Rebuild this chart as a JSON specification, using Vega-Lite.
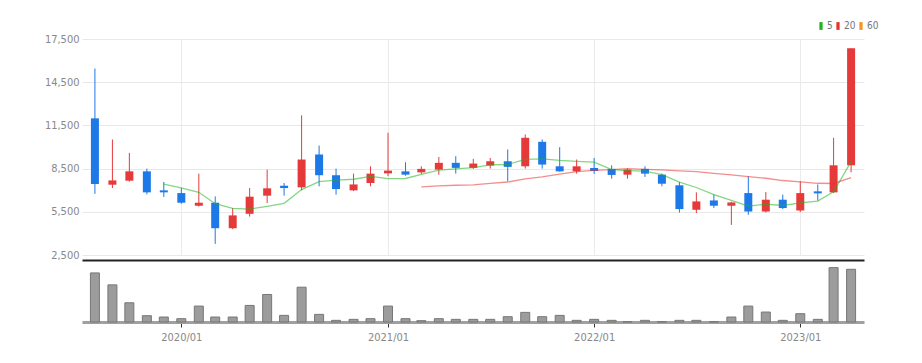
{
  "$schema": "https://vega.github.io/schema/vega-lite/v6.json",
  "padding": {"left": 5, "top": 21, "right": 5, "bottom": 5},
  "background": "white",
  "config": {
    "view": {"stroke": null},
    "font": "Liberation Sans Narrow, DejaVu Sans Condensed, sans-serif",
    "axis": {"labelFont": "Liberation Sans Narrow, DejaVu Sans Condensed, sans-serif", "labelColor": "#888888", "labelFontSize": 11, "title": null},
    "legend": {"labelFont": "Liberation Sans Narrow, DejaVu Sans Condensed, sans-serif"},
    "concat": {"spacing": 0}
  },
  "datasets": {
    "ohlc": [
      {"date": "2019-08-01", "open": 11990, "high": 15450, "low": 6750, "close": 7430, "volume": 148},
      {"date": "2019-09-01", "open": 7380, "high": 10520, "low": 7150, "close": 7680, "volume": 112},
      {"date": "2019-10-01", "open": 7660, "high": 9590, "low": 7590, "close": 8310, "volume": 58},
      {"date": "2019-11-01", "open": 8310, "high": 8500, "low": 6710, "close": 6850, "volume": 19},
      {"date": "2019-12-01", "open": 6990, "high": 7570, "low": 6530, "close": 6850, "volume": 15},
      {"date": "2020-01-01", "open": 6800, "high": 7150, "low": 6060, "close": 6130, "volume": 10},
      {"date": "2020-02-01", "open": 5920, "high": 8150, "low": 5870, "close": 6130, "volume": 48},
      {"date": "2020-03-01", "open": 6130, "high": 6570, "low": 3270, "close": 4360, "volume": 15},
      {"date": "2020-04-01", "open": 4360, "high": 5760, "low": 4290, "close": 5250, "volume": 15},
      {"date": "2020-05-01", "open": 5360, "high": 7150, "low": 5170, "close": 6550, "volume": 50},
      {"date": "2020-06-01", "open": 6620, "high": 8430, "low": 6110, "close": 7130, "volume": 83},
      {"date": "2020-07-01", "open": 7310, "high": 7500, "low": 6620, "close": 7150, "volume": 20},
      {"date": "2020-08-01", "open": 7200, "high": 12200, "low": 6990, "close": 9130, "volume": 105},
      {"date": "2020-09-01", "open": 9480, "high": 10100, "low": 7270, "close": 8040, "volume": 23},
      {"date": "2020-10-01", "open": 8040, "high": 8500, "low": 6690, "close": 7080, "volume": 5},
      {"date": "2020-11-01", "open": 6990, "high": 8150, "low": 6940, "close": 7400, "volume": 8},
      {"date": "2020-12-01", "open": 7500, "high": 8660, "low": 7270, "close": 8150, "volume": 10},
      {"date": "2021-01-01", "open": 8170, "high": 10990, "low": 7970, "close": 8360, "volume": 48},
      {"date": "2021-02-01", "open": 8310, "high": 8940, "low": 8010, "close": 8080, "volume": 10},
      {"date": "2021-03-01", "open": 8240, "high": 8660, "low": 8130, "close": 8480, "volume": 4},
      {"date": "2021-04-01", "open": 8430, "high": 9310, "low": 8080, "close": 8900, "volume": 10},
      {"date": "2021-05-01", "open": 8900, "high": 9360, "low": 8150, "close": 8550, "volume": 8},
      {"date": "2021-06-01", "open": 8550, "high": 9180, "low": 8480, "close": 8850, "volume": 8},
      {"date": "2021-07-01", "open": 8710, "high": 9240, "low": 8500, "close": 9010, "volume": 8},
      {"date": "2021-08-01", "open": 9010, "high": 9830, "low": 7620, "close": 8620, "volume": 16},
      {"date": "2021-09-01", "open": 8660, "high": 10870, "low": 8500, "close": 10640, "volume": 29},
      {"date": "2021-10-01", "open": 10360, "high": 10520, "low": 8500, "close": 8780, "volume": 16},
      {"date": "2021-11-01", "open": 8660, "high": 9990, "low": 8290, "close": 8310, "volume": 20},
      {"date": "2021-12-01", "open": 8310, "high": 9130, "low": 8150, "close": 8660, "volume": 5},
      {"date": "2022-01-01", "open": 8550, "high": 9240, "low": 8130, "close": 8330, "volume": 8},
      {"date": "2022-02-01", "open": 8480, "high": 8730, "low": 7800, "close": 8060, "volume": 5},
      {"date": "2022-03-01", "open": 8080, "high": 8500, "low": 7800, "close": 8430, "volume": 1},
      {"date": "2022-04-01", "open": 8480, "high": 8660, "low": 7920, "close": 8150, "volume": 5},
      {"date": "2022-05-01", "open": 8080, "high": 8150, "low": 7270, "close": 7450, "volume": 1},
      {"date": "2022-06-01", "open": 7340, "high": 7570, "low": 5450, "close": 5690, "volume": 5},
      {"date": "2022-07-01", "open": 5640, "high": 6850, "low": 5410, "close": 6220, "volume": 5},
      {"date": "2022-08-01", "open": 6290, "high": 6690, "low": 5760, "close": 5920, "volume": 1},
      {"date": "2022-09-01", "open": 5920, "high": 6200, "low": 4590, "close": 6150, "volume": 15},
      {"date": "2022-10-01", "open": 6800, "high": 7970, "low": 5290, "close": 5520, "volume": 48},
      {"date": "2022-11-01", "open": 5520, "high": 6870, "low": 5450, "close": 6340, "volume": 30},
      {"date": "2022-12-01", "open": 6340, "high": 6690, "low": 5690, "close": 5760, "volume": 5},
      {"date": "2023-01-01", "open": 5590, "high": 7620, "low": 5480, "close": 6800, "volume": 25},
      {"date": "2023-02-01", "open": 6920, "high": 7400, "low": 6270, "close": 6780, "volume": 8},
      {"date": "2023-03-01", "open": 6850, "high": 10640, "low": 6800, "close": 8730, "volume": 164},
      {"date": "2023-04-01", "open": 8730, "high": 16850, "low": 8240, "close": 16850, "volume": 159}
    ],
    "ma": [
      {"date": "2019-12-01", "period": "5", "value": 7424},
      {"date": "2020-01-01", "period": "5", "value": 7164},
      {"date": "2020-02-01", "period": "5", "value": 6854},
      {"date": "2020-03-01", "period": "5", "value": 6064},
      {"date": "2020-04-01", "period": "5", "value": 5744},
      {"date": "2020-05-01", "period": "5", "value": 5684},
      {"date": "2020-06-01", "period": "5", "value": 5884},
      {"date": "2020-07-01", "period": "5", "value": 6088},
      {"date": "2020-08-01", "period": "5", "value": 7042},
      {"date": "2020-09-01", "period": "5", "value": 7600},
      {"date": "2020-10-01", "period": "5", "value": 7706},
      {"date": "2020-11-01", "period": "5", "value": 7760},
      {"date": "2020-12-01", "period": "5", "value": 7960},
      {"date": "2021-01-01", "period": "5", "value": 7806},
      {"date": "2021-02-01", "period": "5", "value": 7814},
      {"date": "2021-03-01", "period": "5", "value": 8094},
      {"date": "2021-04-01", "period": "5", "value": 8394},
      {"date": "2021-05-01", "period": "5", "value": 8474},
      {"date": "2021-06-01", "period": "5", "value": 8572},
      {"date": "2021-07-01", "period": "5", "value": 8758},
      {"date": "2021-08-01", "period": "5", "value": 8786},
      {"date": "2021-09-01", "period": "5", "value": 9134},
      {"date": "2021-10-01", "period": "5", "value": 9180},
      {"date": "2021-11-01", "period": "5", "value": 9072},
      {"date": "2021-12-01", "period": "5", "value": 9002},
      {"date": "2022-01-01", "period": "5", "value": 8944},
      {"date": "2022-02-01", "period": "5", "value": 8428},
      {"date": "2022-03-01", "period": "5", "value": 8358},
      {"date": "2022-04-01", "period": "5", "value": 8326},
      {"date": "2022-05-01", "period": "5", "value": 8084},
      {"date": "2022-06-01", "period": "5", "value": 7556},
      {"date": "2022-07-01", "period": "5", "value": 7188},
      {"date": "2022-08-01", "period": "5", "value": 6686},
      {"date": "2022-09-01", "period": "5", "value": 6286},
      {"date": "2022-10-01", "period": "5", "value": 5900},
      {"date": "2022-11-01", "period": "5", "value": 6030},
      {"date": "2022-12-01", "period": "5", "value": 5938},
      {"date": "2023-01-01", "period": "5", "value": 6114},
      {"date": "2023-02-01", "period": "5", "value": 6240},
      {"date": "2023-03-01", "period": "5", "value": 6882},
      {"date": "2023-04-01", "period": "5", "value": 8984},
      {"date": "2021-03-01", "period": "20", "value": 7227},
      {"date": "2021-04-01", "period": "20", "value": 7301},
      {"date": "2021-05-01", "period": "20", "value": 7344},
      {"date": "2021-06-01", "period": "20", "value": 7371},
      {"date": "2021-07-01", "period": "20", "value": 7479},
      {"date": "2021-08-01", "period": "20", "value": 7568},
      {"date": "2021-09-01", "period": "20", "value": 7793},
      {"date": "2021-10-01", "period": "20", "value": 7926},
      {"date": "2021-11-01", "period": "20", "value": 8123},
      {"date": "2021-12-01", "period": "20", "value": 8294},
      {"date": "2022-01-01", "period": "20", "value": 8383},
      {"date": "2022-02-01", "period": "20", "value": 8429},
      {"date": "2022-03-01", "period": "20", "value": 8493},
      {"date": "2022-04-01", "period": "20", "value": 8444},
      {"date": "2022-05-01", "period": "20", "value": 8415},
      {"date": "2022-06-01", "period": "20", "value": 8345},
      {"date": "2022-07-01", "period": "20", "value": 8286},
      {"date": "2022-08-01", "period": "20", "value": 8175},
      {"date": "2022-09-01", "period": "20", "value": 8064},
      {"date": "2022-10-01", "period": "20", "value": 7936},
      {"date": "2022-11-01", "period": "20", "value": 7829},
      {"date": "2022-12-01", "period": "20", "value": 7672},
      {"date": "2023-01-01", "period": "20", "value": 7585},
      {"date": "2023-02-01", "period": "20", "value": 7481},
      {"date": "2023-03-01", "period": "20", "value": 7467},
      {"date": "2023-04-01", "period": "20", "value": 7879}
    ]
  },
  "vconcat": [
    {
      "width": 782,
      "height": 216,
      "encoding": {
        "x": {
          "field": "date",
          "type": "temporal",
          "scale": {"type": "utc", "domain": [{"year": 2019, "month": 7, "date": 18, "utc": true}, {"year": 2023, "month": 4, "date": 15, "utc": true}]},
          "axis": {
            "orient": "bottom",
            "offset": 5,
            "labels": false,
            "ticks": false,
            "domainColor": "#222222",
            "domainWidth": 2,
            "grid": true,
            "gridColor": "#ebebeb",
            "values": [
              {"year": 2020, "month": 1, "date": 1, "utc": true},
              {"year": 2021, "month": 1, "date": 1, "utc": true},
              {"year": 2022, "month": 1, "date": 1, "utc": true},
              {"year": 2023, "month": 1, "date": 1, "utc": true}
            ]
          }
        }
      },
      "layer": [
        {
          "data": {"name": "ohlc"},
          "mark": {"type": "rule", "strokeWidth": 1},
          "encoding": {
            "y": {
              "field": "low",
              "type": "quantitative",
              "scale": {"domain": [2500, 17500], "nice": false, "zero": false},
              "axis": {
                "values": [2500, 5500, 8500, 11500, 14500, 17500],
                "format": ",d",
                "domain": false,
                "ticks": false,
                "labelPadding": 3,
                "grid": true,
                "gridColor": "#e8e8e8",
                "minExtent": 77,
                "maxExtent": 77
              }
            },
            "y2": {"field": "high"},
            "color": {"condition": {"test": "datum.close >= datum.open", "value": "#e63a3a"}, "value": "#1d78e8"}
          }
        },
        {
          "data": {"name": "ohlc"},
          "mark": {"type": "bar", "size": 8},
          "encoding": {
            "y": {"field": "open", "type": "quantitative"},
            "y2": {"field": "close"},
            "color": {"condition": {"test": "datum.close >= datum.open", "value": "#e63a3a"}, "value": "#1d78e8"}
          }
        },
        {
          "data": {"name": "ma"},
          "mark": {"type": "line", "strokeWidth": 1.3, "strokeOpacity": 0.55},
          "encoding": {
            "y": {"field": "value", "type": "quantitative"},
            "color": {
              "field": "period",
              "type": "nominal",
              "scale": {"domain": ["5", "20", "60"], "range": ["#1db41d", "#e8312f", "#f7931e"]},
              "legend": {
                "orient": "none",
                "legendX": 734,
                "legendY": -18,
                "direction": "horizontal",
                "title": null,
                "symbolType": "M-0.5,-1.2H0.5V1.2H-0.5Z",
                "symbolSize": 42,
                "symbolStrokeWidth": 0,
                "labelFontSize": 10,
                "labelColor": "#777777",
                "labelOffset": 1,
                "columnPadding": -6,
                "padding": 0,
                "encode": {
                  "symbols": {
                    "update": {
                      "fill": {"scale": "color", "field": "value"},
                      "fillOpacity": {"value": 1},
                      "opacity": {"value": 1},
                      "strokeWidth": {"value": 0}
                    }
                  }
                }
              }
            }
          }
        }
      ]
    },
    {
      "width": 782,
      "height": 62,
      "data": {"name": "ohlc"},
      "mark": {"type": "bar", "size": 9, "color": "#9c9c9c", "stroke": "#777777", "strokeWidth": 1},
      "encoding": {
        "x": {
          "field": "date",
          "type": "temporal",
          "scale": {"type": "utc", "domain": [{"year": 2019, "month": 7, "date": 18, "utc": true}, {"year": 2023, "month": 4, "date": 15, "utc": true}]},
          "axis": {
            "format": "%Y/%m",
            "domainColor": "#a0a0a0",
            "domainWidth": 3,
            "tickColor": "#333333",
            "tickSize": 5,
            "labelPadding": 4,
            "grid": false,
            "values": [
              {"year": 2020, "month": 1, "date": 1, "utc": true},
              {"year": 2021, "month": 1, "date": 1, "utc": true},
              {"year": 2022, "month": 1, "date": 1, "utc": true},
              {"year": 2023, "month": 1, "date": 1, "utc": true}
            ]
          }
        },
        "y": {
          "field": "volume",
          "type": "quantitative",
          "scale": {"domain": [0, 187], "nice": false},
          "axis": {"labels": false, "ticks": false, "domain": false, "grid": false, "minExtent": 77, "maxExtent": 77}
        }
      }
    }
  ]
}
